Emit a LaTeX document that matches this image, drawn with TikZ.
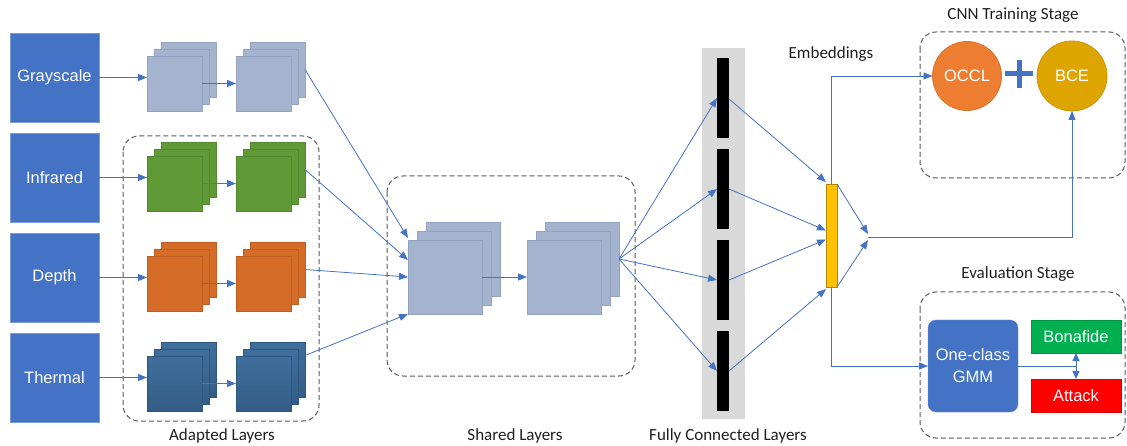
\documentclass[tikz,border=0pt]{standalone}
\usepackage{fontspec}
\setmainfont{Liberation Sans}
\newfontfamily\labelfont{Carlito}
\usetikzlibrary{arrows.meta,calc}

\definecolor{linkblue}{HTML}{4472C4}
\definecolor{inputblue}{HTML}{4472C4}
\definecolor{gsfill}{HTML}{A5B4CE}
\definecolor{gsdraw}{HTML}{93A4C2}
\definecolor{irfill}{HTML}{5F9A37}
\definecolor{irdraw}{HTML}{52892F}
\definecolor{dpfill}{HTML}{D46B26}
\definecolor{dpdraw}{HTML}{BF5E20}
\definecolor{thtop}{HTML}{3F6F9D}
\definecolor{thbot}{HTML}{335D86}
\definecolor{thdraw}{HTML}{2E5780}
\definecolor{occlfill}{HTML}{ED7D31}
\definecolor{bcefill}{HTML}{DEA400}
\definecolor{embfill}{HTML}{FFC000}
\definecolor{dashgray}{HTML}{595959}
\definecolor{fcgray}{HTML}{D9D9D9}
\definecolor{bonagreen}{HTML}{00B050}
\definecolor{attred}{HTML}{FF0000}

% three stacked feature maps; the front one carries the given name
\newcommand\layerstack[6]{%
  \node[#6, minimum width=#4pt, minimum height=#4pt, anchor=north west] (#1-b) at ({#2+2*#5},{#3-2*#5}) {};
  \node[#6, minimum width=#4pt, minimum height=#4pt, anchor=north west] (#1-m) at ({#2+#5},{#3-#5}) {};
  \node[#6, minimum width=#4pt, minimum height=#4pt, anchor=north west] (#1) at (#2,#3) {};
}

\begin{document}
\begin{tikzpicture}[x=1pt,y=-1pt,
  font=\fontsize{16.5}{19}\selectfont,
  every node/.style={inner sep=0pt, outer sep=0pt},
  link/.style={draw=linkblue, line width=0.8pt, -{Triangle[length=9pt,width=7pt]}},
  plainlink/.style={draw=linkblue, line width=0.8pt},
  inbox/.style={fill=inputblue, draw=inputblue!70!white, line width=0.8pt, text=white,
                minimum width=89pt, minimum height=89pt, anchor=north west},
  gslayer/.style={fill=gsfill, draw=gsdraw, line width=0.8pt},
  irlayer/.style={fill=irfill, draw=irdraw, line width=0.8pt},
  dplayer/.style={fill=dpfill, draw=dpdraw, line width=0.8pt},
  thlayer/.style={top color=thtop, bottom color=thbot, draw=thdraw, line width=0.8pt},
  group/.style={draw=dashgray, line width=1pt, dash pattern=on 5pt off 3pt, rounded corners=16pt},
  lbl/.style={font=\labelfont\fontsize{17}{20}\selectfont, text=black!88},
  bar/.style={fill=black, minimum width=12pt, minimum height=80pt, anchor=north west},
  loss/.style={circle, text=white, line width=0.8pt},
  verdict/.style={text=white, minimum width=90pt, minimum height=33pt, anchor=north west, line width=0.6pt}
]
\useasboundingbox (0,0) rectangle (1127,446);

% ---- modality inputs ----
\node[inbox] (gray)  at (10,33)  {Grayscale};
\node[inbox] (infra) at (10,133) {Infrared};
\node[inbox] (depth) at (10,233) {Depth};
\node[inbox] (therm) at (10,333) {Thermal};

% ---- modality-specific layers ----
\draw[group] (123,136) rectangle (319,421);
\layerstack{gs1}{147}{56}{55}{7}{gslayer}
\layerstack{gs2}{236}{56}{55}{7}{gslayer}
\layerstack{ir1}{147}{156}{55}{7}{irlayer}
\layerstack{ir2}{236}{156}{55}{7}{irlayer}
\layerstack{dp1}{147}{256}{55}{7}{dplayer}
\layerstack{dp2}{236}{256}{55}{7}{dplayer}
\layerstack{th1}{147}{356}{55}{7}{thlayer}
\layerstack{th2}{236}{356}{55}{7}{thlayer}
\node[lbl] (adaptlbl) at (222,436) {Adapted Layers};

\draw[link] (gray.east)  -- (gray.east -| gs1.west);
\draw[link] (infra.east) -- (infra.east -| ir1.west);
\draw[link] (depth.east) -- (depth.east -| dp1.west);
\draw[link] (therm.east) -- (therm.east -| th1.west);
\draw[link] (gs1.east) -- (gs2.west);
\draw[link] (ir1.east) -- (ir2.west);
\draw[link] (dp1.east) -- (dp2.west);
\draw[link] (th1.east) -- (th2.west);

% ---- shared layers ----
\draw[group] (387,176) rectangle (635,376);
\layerstack{sh1}{408}{240}{74}{9}{gslayer}
\layerstack{sh2}{527}{240}{74}{9}{gslayer}
\node[lbl] (sharedlbl) at (515,436) {Shared Layers};

\draw[link] (gs2-b.east) -- ([yshift=39pt]sh1.west);
\draw[link] (ir2-b.east) -- ([yshift=17pt]sh1.west);
\draw[link] (dp2-b.east) -- (sh1.west);
\draw[link] ([yshift=14pt]th2-b.east) -- ([yshift=-37pt]sh1.west);
\draw[link] (sh1.east) -- (sh2.west);

% ---- fully connected layers ----
\node[fill=fcgray, minimum width=43pt, minimum height=371pt, anchor=north west] (fcbg) at (702,48) {};
\node[bar] (fc1) at (717,58) {};
\node[bar] (fc2) at (717,149) {};
\node[bar] (fc3) at (717,240) {};
\node[bar] (fc4) at (717,331) {};
\node[lbl] (fclbl) at (728,436) {Fully Connected Layers};

\foreach \b in {fc1,fc2,fc3,fc4}
  \draw[link] (sh2-b.east) -- (\b.west);

% ---- embedding ----
\node[fill=embfill, draw=embfill!70!black, line width=0.8pt, minimum width=11pt, minimum height=103pt, anchor=north west] (emb) at (826,184) {};
\node[lbl] (emblbl) at (831,54) {Embeddings};

\draw[link] ([yshift=-1pt]fc1.east) -- ([yshift=2pt]emb.north west);
\draw[link] (fc2.east) -- ([yshift=5pt]emb.west);
\draw[link] (fc3.east) -- ([yshift=-4pt]emb.west);
\draw[link] (fc4.east) -- ([yshift=-2pt]emb.south west);

% ---- training stage ----
\draw[group] (920,32) rectangle (1125,178);
\node[lbl] (trainlbl) at (1013,15) {CNN Training Stage};
\node[loss, fill=occlfill, draw=occlfill!92!black, minimum size=69pt] (occl) at (967,76) {OCCL};
\node[loss, fill=bcefill, draw=bcefill!90!black, minimum size=70pt] (bce) at (1072,76) {BCE};
\draw[linkblue, line width=5pt] (1005,74) -- (1033,74) (1019,60) -- (1019,88);

\coordinate (merge) at (868,237);
\draw[link] (emb.north) |- (occl.west);
\draw[link] (emb.north east) -- ([yshift=3pt]merge);
\draw[link] (emb.south east) -- ([yshift=-3pt]merge);
\draw[link] (merge) -| (bce.south);

% ---- evaluation stage ----
\draw[group] (920,292) rectangle (1125,438);
\node[lbl] (evallbl) at (1018,274) {Evaluation Stage};
\node[fill=inputblue, draw=inputblue!80!white, rounded corners=8pt, text=white, align=center,
      minimum width=90pt, minimum height=92pt, anchor=north west, font=\fontsize{16.5}{22}\selectfont] (gmm) at (928,320) {One-class\\GMM};
\node[verdict, fill=bonagreen, draw=bonagreen!85!black] (bona) at (1031,320) {Bonafide};
\node[verdict, fill=attred, draw=attred!85!black] (att) at (1031,379) {Attack};

\draw[link] (emb.south) |- (gmm.west);
\draw[plainlink] (gmm.east) -- (gmm.east -| bona.south);
\draw[draw=linkblue, line width=0.8pt, {Triangle[length=8pt,width=7pt]}-{Triangle[length=8pt,width=7pt]}] (bona.south) -- (att.north);
\end{tikzpicture}
\end{document}
